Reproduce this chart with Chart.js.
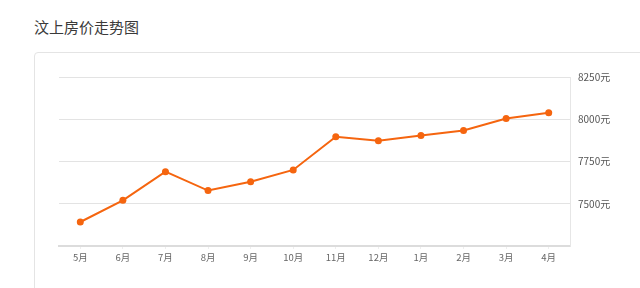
<!DOCTYPE html>
<html>
<head>
<meta charset="utf-8">
<script src="https://cdn.jsdelivr.net/npm/chart.js@4"></script>
<style>
  html, body { margin:0; padding:0; background:#fff; width:640px; height:288px; overflow:hidden; }
  #title { position:absolute; left:34px; top:17px; font-family:"Noto Sans CJK SC","Noto Sans",sans-serif; font-size:15px; color:#3a3a3a; line-height:20px; }
  #card { position:absolute; left:34px; top:52px; width:640px; height:260px; border:1px solid #e4e4e4; border-radius:4px; box-sizing:border-box; }
  #wrap { position:absolute; left:0; top:0; width:640px; height:288px; }
</style>
</head>
<body>
<div id="title">汶上房价走势图</div>
<div id="card"></div>
<div id="wrap"><canvas id="c" width="640" height="288"></canvas></div>
<script>
const categories = ['5月','6月','7月','8月','9月','10月','11月','12月','1月','2月','3月','4月'];
const prices = [7392, 7520, 7690, 7578, 7630, 7700, 7896, 7873, 7904, 7934, 8004, 8039];
const yMin = 7250, yMax = 8250, yStep = 250;

new Chart(document.getElementById('c'), {
  type: 'line',
  data: {
    labels: categories,
    datasets: [{
      data: prices,
      borderColor: '#f5650f',
      backgroundColor: '#f5650f',
      borderWidth: 2,
      pointRadius: 3.5,
      pointHoverRadius: 3.5,
      pointBackgroundColor: '#f5650f',
      pointBorderWidth: 0,
      tension: 0,
      fill: false
    }]
  },
  options: {
    responsive: false,
    animation: false,
    events: [],
    layout: { padding: { left: 59, top: 77, right: 0, bottom: 0 } },
    plugins: { legend: { display: false }, tooltip: { enabled: false } },
    scales: {
      x: {
        offset: true,
        grid: { display: true, drawOnChartArea: false, drawTicks: true, tickLength: 3, color: '#eeeeee' },
        border: { display: true, color: '#dcdcdc', width: 2 },
        ticks: { color: '#666', font: { family: '"Noto Sans CJK SC", sans-serif', size: 9.5 }, padding: 3, maxRotation: 0, autoSkip: false },
        afterFit: (s) => { s.height = 42; }
      },
      y: {
        position: 'right',
        min: yMin, max: yMax,
        grid: {
          drawTicks: false,
          color: (ctx) => ctx.tick && ctx.tick.value === yMin ? 'rgba(0,0,0,0)' : '#e3e3e3',
          lineWidth: 1
        },
        border: { display: true, color: '#e6e6e6', width: 1 },
        ticks: {
          stepSize: yStep,
          color: '#555',
          padding: 8,
          font: { family: '"Noto Sans CJK SC", sans-serif', size: 10 },
          callback: (v) => v === yMin ? '' : v + '元'
        },
        afterFit: (s) => { s.width = 70; }
      }
    }
  }
});
</script>
</body>
</html>
